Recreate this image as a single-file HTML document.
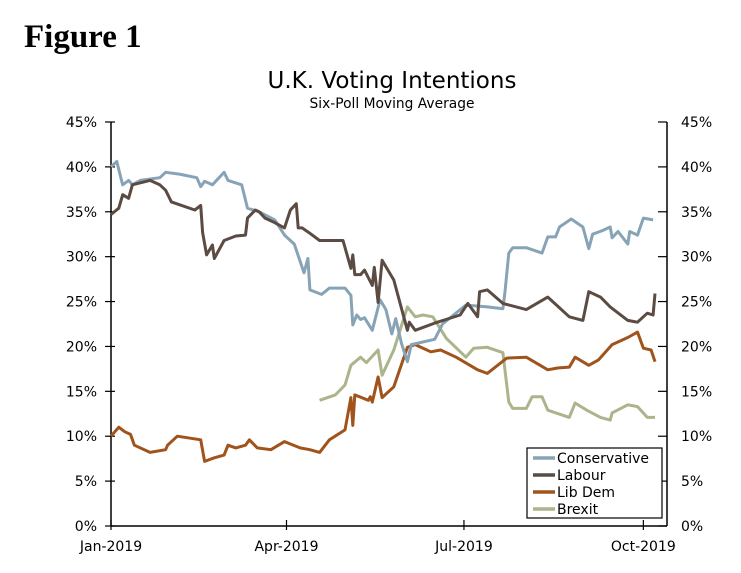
<!DOCTYPE html>
<html><head><meta charset="utf-8"><style>
body{margin:0;background:#fff;width:741px;height:568px;overflow:hidden}
svg text{font-family:"DejaVu Sans","Liberation Sans",sans-serif;fill:#000}
</style></head><body>
<svg id="chart" width="741" height="568" xmlns="http://www.w3.org/2000/svg">
<text x="24" y="47" style="font-family:'Liberation Serif',serif;font-weight:bold;font-size:33px">Figure 1</text>
<text x="392" y="88" text-anchor="middle" font-size="23">U.K. Voting Intentions</text>
<text x="392" y="108" text-anchor="middle" font-size="13.8">Six-Poll Moving Average</text>
<g id="axes"></g><g id="series"></g><g id="legend"></g>
</svg>
<script>
const yTicks=[0,5,10,15,20,25,30,35,40,45];
const xTickDays=[0,90,181,273];
const xTickLabels=["Jan-2019","Apr-2019","Jul-2019","Oct-2019"];
const seriesNames=["Conservative","Labour","Lib Dem","Brexit"];
const conDays=[0,3,5,6,9,11,15,25,28,35,44,46,48,52,58,60,67,70,76,84,89,94,99,101,102,108,112,120,123,124,126,128,130,134,138,141,144,146,149,152,154,166,170,182,193,201,202,204,206,213,221,224,228,230,236,242,245,247,252,256,257,260,265,266,270,273,278];
const conVals=[40.0,40.6,38.8,38.0,38.5,38.0,38.5,38.8,39.4,39.2,38.8,37.8,38.4,38.0,39.4,38.5,38.0,35.4,35.0,34.1,32.4,31.4,28.2,29.8,26.3,25.8,26.5,26.5,25.7,22.4,23.5,23.0,23.2,21.8,25.2,24.1,21.4,23.1,20.3,18.3,20.2,20.8,22.5,24.6,24.4,24.2,26.0,30.4,31.0,31.0,30.4,32.2,32.2,33.3,34.2,33.3,30.9,32.5,32.9,33.3,32.1,32.8,31.4,32.8,32.4,34.3,34.1];
const labDays=[0,4,6,9,11,20,25,28,31,43,46,47,49,52,53,58,64,69,70,74,76,79,83,89,92,95,96,98,102,107,119,123,124,125,128,130,134,135,137,139,145,152,153,156,166,179,183,188,189,193,201,213,224,235,242,245,251,256,265,270,275,278,279];
const labVals=[34.7,35.4,36.9,36.5,38.0,38.5,38.0,37.4,36.1,35.2,35.7,32.7,30.2,31.3,29.8,31.8,32.3,32.4,34.3,35.2,35.0,34.3,33.9,33.2,35.2,35.9,33.2,33.2,32.6,31.8,31.8,28.7,30.2,28.0,28.0,28.5,26.8,28.8,24.9,29.6,27.4,21.8,22.7,21.8,22.6,23.5,24.8,23.3,26.1,26.3,24.8,24.1,25.5,23.3,22.9,26.1,25.5,24.4,22.9,22.7,23.7,23.5,25.9];
const ldDays=[0,4,7,10,12,20,28,29,34,46,48,53,58,60,64,69,71,75,82,89,97,102,107,112,120,123,124,125,132,133,134,137,139,145,152,156,164,169,177,188,193,203,213,224,229,235,238,245,250,257,265,270,273,277,279];
const ldVals=[10.0,11.0,10.5,10.2,9.0,8.2,8.5,9.0,10.0,9.6,7.2,7.6,7.9,9.0,8.7,9.0,9.6,8.7,8.5,9.4,8.7,8.5,8.2,9.6,10.7,14.3,11.2,14.6,14.0,14.4,13.8,16.6,14.3,15.5,19.9,20.2,19.4,19.6,18.8,17.4,17.0,18.7,18.8,17.4,17.6,17.7,18.8,17.9,18.5,20.2,21.0,21.6,19.8,19.6,18.3];
const brxDays=[107,115,120,123,128,131,137,139,145,152,156,160,165,172,182,186,193,201,204,206,213,216,221,224,235,238,244,251,256,257,265,270,275,279];
const brxVals=[14.0,14.6,15.7,17.9,18.8,18.2,19.6,16.8,19.6,24.4,23.3,23.5,23.3,20.9,18.8,19.8,19.9,19.3,13.8,13.1,13.1,14.4,14.4,12.9,12.1,13.7,12.9,12.1,11.8,12.6,13.5,13.3,12.1,12.1];
const colors=["#87a3b6","#5b4b43","#a0531b","#abb48b"];

const NS="http://www.w3.org/2000/svg";
const L=111,R=667,T=122,B=526;
const xs=d=>L+d*1.95;
const ys=v=>B-(v/45)*(B-T);
function mk(tag,attrs,parent){const e=document.createElementNS(NS,tag);for(const k in attrs)e.setAttribute(k,attrs[k]);parent.appendChild(e);return e;}
const ax=document.getElementById('axes');
let e;
e=mk('line',{x1:L,y1:T,x2:L,y2:B,stroke:'#000','stroke-width':1.5},ax);


e=mk('line',{x1:R,y1:T,x2:R,y2:B,stroke:'#000','stroke-width':1.5},ax);


e=mk('line',{x1:L,y1:B,x2:R,y2:B,stroke:'#000','stroke-width':1.5},ax);


yTicks.forEach(v=>{
  const y=ys(v);
  mk('line',{x1:L-6,y1:y,x2:L+4,y2:y,stroke:'#000','stroke-width':1.2},ax);
  mk('line',{x1:R-9,y1:y,x2:R,y2:y,stroke:'#000','stroke-width':1.2},ax);
  const t1=mk('text',{x:L-14,y:y+5,'text-anchor':'end','font-size':14},ax);t1.textContent=v+'%';
  
  
  const t2=mk('text',{x:R+14,y:y+5,'text-anchor':'start','font-size':14},ax);t2.textContent=v+'%';
  
  
});
xTickDays.forEach((d,i)=>{
  const x=xs(d);
  mk('line',{x1:x,y1:B-6,x2:x,y2:B+4,stroke:'#000','stroke-width':1.2},ax);
  const t=mk('text',{x:x,y:B+25,'text-anchor':'middle','font-size':14},ax);t.textContent=xTickLabels[i];
  
  
});
const sg=document.getElementById('series');
const all=[[conDays,conVals],[labDays,labVals],[ldDays,ldVals],[brxDays,brxVals]];
const order=[3,2,0,1];
order.forEach(i=>{
  const [d,v]=all[i];
  const p=d.map((dd,j)=>xs(dd).toFixed(1)+','+ys(v[j]).toFixed(1)).join(' ');
  const pl=mk('polyline',{points:p,fill:'none',stroke:colors[i],'stroke-width':3,'stroke-linejoin':'round'},sg);
  
  
});
const lg=document.getElementById('legend');
const box=mk('rect',{x:527,y:448,width:135,height:70,fill:'#fff',stroke:'#000','stroke-width':1.2},lg);


seriesNames.forEach((n,i)=>{
  const y=458+i*17;
  mk('line',{x1:533,y1:y,x2:555,y2:y,stroke:colors[i],'stroke-width':3.5},lg);
  const t=mk('text',{x:557,y:y+5,'font-size':14},lg);t.textContent=n;
  
  
});
</script>
</body></html>
